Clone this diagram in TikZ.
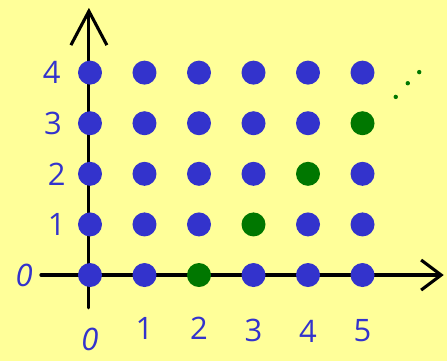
\documentclass[tikz,border=0pt]{standalone}
\usepackage{fontspec}
\setmainfont{Open Sans}
\usetikzlibrary{arrows.meta}
\definecolor{Paper}{HTML}{FFFF99}
\definecolor{DotBlue}{HTML}{3333CC}
\definecolor{DotGreen}{HTML}{007700}

\begin{document}
\begin{tikzpicture}[x=1.3625cm,y=1.265cm,font=\fontsize{22}{26}\selectfont,axis/.style={line width=2.2pt, draw=black, line cap=round},dot/.style={circle, fill=DotBlue, inner sep=0pt, minimum size=0.6cm},hit/.style={circle, fill=DotGreen, inner sep=0pt, minimum size=0.6cm},tick/.style={text=DotBlue, inner sep=0pt},more/.style={circle, fill=DotGreen, inner sep=0pt, minimum size=0.11cm}]
\fill[Paper] (-1.651,-1.700) rectangle (6.550,5.435);
\useasboundingbox (-1.651,-1.700) rectangle (6.550,5.435);
\coordinate (ybot) at (-0.02,-0.65); \coordinate (ytop) at (-0.02,5.28);
\coordinate (xlft) at (-0.9,0); \coordinate (xrgt) at (6.49,0);
\draw[axis,-{Straight Barb[length=0.85cm,width=0.9cm,line width=2.2pt]}] (ybot) -- (ytop);
\draw[axis,-{Straight Barb[length=0.5cm,width=0.75cm,line width=2.2pt]}] (xlft) -- (xrgt);
\foreach \x in {0,...,5} {\foreach \y in {0,...,4} {\pgfmathtruncatemacro\d{\x-\y} \ifnum\d=2 \node[hit] (p\x\y) at (\x,\y) {}; \else \node[dot] (p\x\y) at (\x,\y) {}; \fi}}
\foreach \y/\lx in {1/-0.61,2/-0.61,3/-0.68,4/-0.70} {\node[tick] (ly\y) at (\lx,\y) {\y};}
\node[tick, font=\fontsize{22}{26}\selectfont\itshape] (ly0) at (-1.21,0) {0};
\foreach \x/\ly in {1/-1.05,2/-1.05,3/-1.09,4/-1.12,5/-1.09} {\node[tick] (lx\x) at (\x,\ly) {\x};}
\node[tick, font=\fontsize{22}{26}\selectfont\itshape] (lx0) at (0,-1.28) {0};
\node[more] (m1) at (5.61,3.52) {}; \node[more] (m2) at (5.83,3.79) {}; \node[more] (m3) at (6.04,4.01) {};
\end{tikzpicture}
\end{document}
